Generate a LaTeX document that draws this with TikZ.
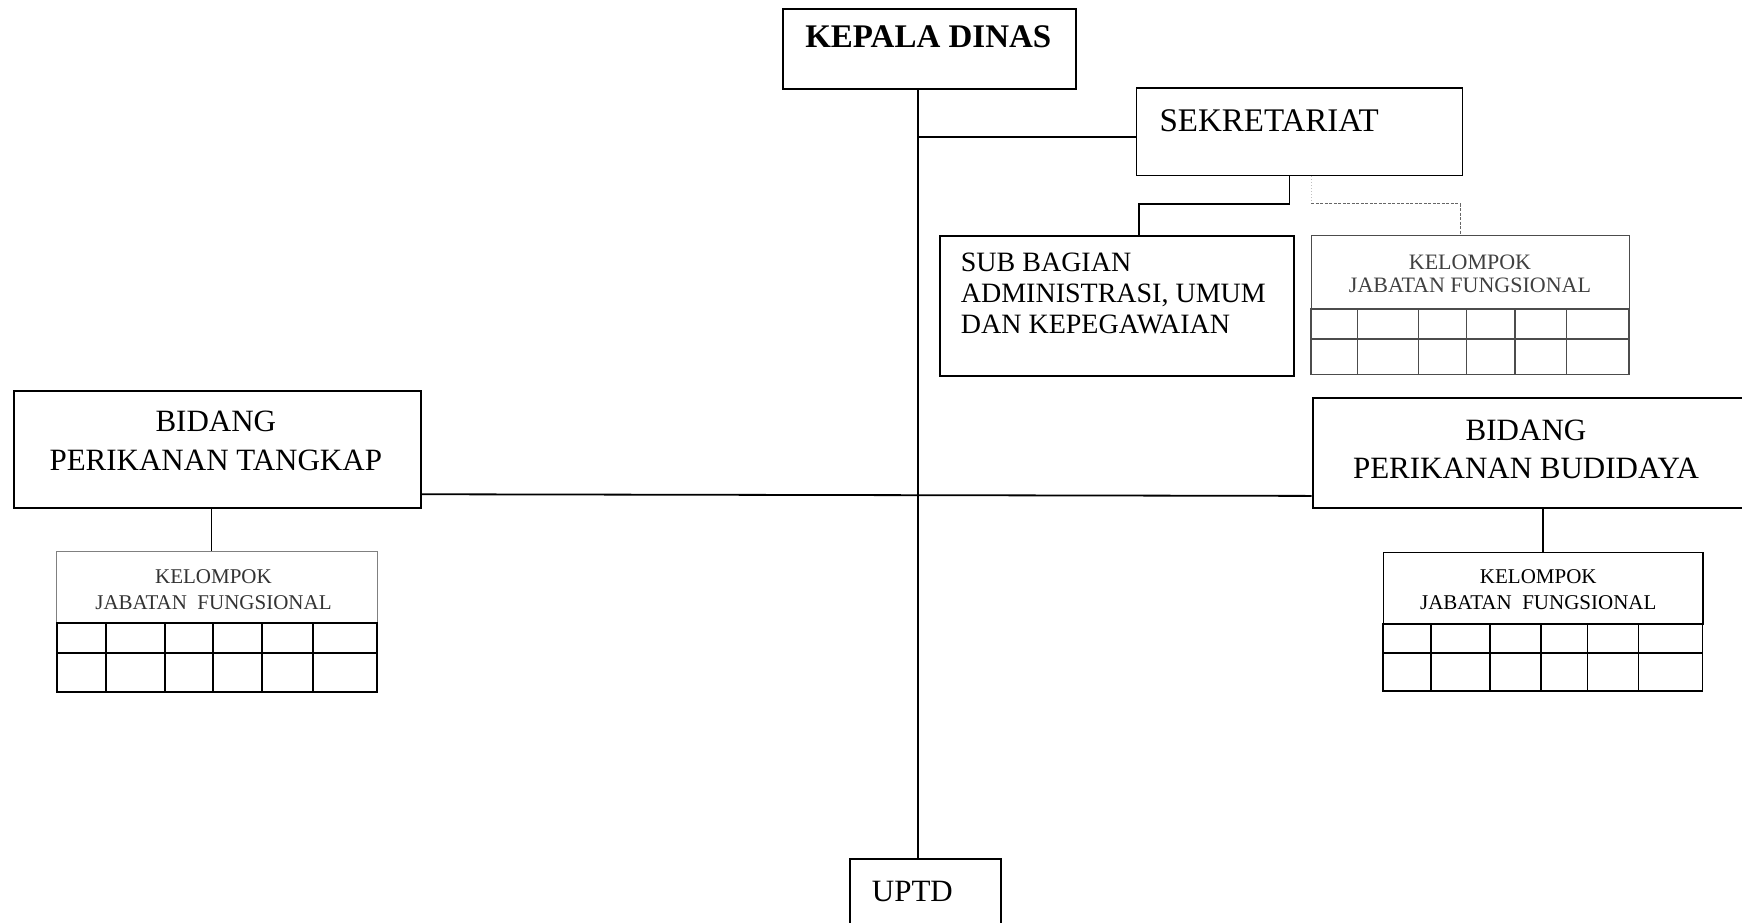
\documentclass[tikz,border=0pt]{standalone}
\usepackage{fontspec}
\setmainfont{Liberation Serif}
\usetikzlibrary{calc}
\def\fungsigrid[#1](#2:#3)(#4:#5:#6)#7{\draw[#1] (#2,#4) rectangle (#3,#6); \draw[#1] (#2,#5) -- (#3,#5); \foreach \c in {#7} {\draw[#1] (\c,#4) -- (\c,#6);}}
\tikzset{
	unit/.style={draw, line width=1.8pt, inner sep=0pt, anchor=north west},
	link/.style={line width=1.8pt},
	dashlink/.style={line width=1.3pt, color=black!60, dash pattern=on 3pt off 1.5pt},
	big/.style={font=\fontsize{31}{38.3}\selectfont, align=center, inner sep=0pt},
	small/.style={font=\fontsize{21}{26}\selectfont, align=center, inner sep=0pt}
}

\begin{document}
\begin{tikzpicture}[x=1pt, y=-1pt]
			%%%%% START %%%%%
			
			\useasboundingbox (0, 0) rectangle (1742, 922);
			\clip (0, 0) rectangle (1742, 922);
			
			\node[unit, minimum width=293pt, minimum height=80pt] (kepala) at (781.7, 8.3) {};
			\node[anchor=base, inner sep=0pt, font=\fontsize{33}{36}\selectfont\bfseries] (kepala-t) at (928.3, 47.5) {KEPALA DINAS};
			
			\node[unit, minimum width=326pt, minimum height=87.5pt] (sek) at (1135.5, 87) {};
			\node[anchor=base west, inner sep=0pt, font=\fontsize{33}{36}\selectfont] (sek-t) at (1159.4, 131) {SEKRETARIAT};
			
			\node[unit, minimum width=353.7pt, minimum height=140pt] (subbag) at (939, 235) {};
			\node[anchor=base west, inner sep=0pt, align=left, font=\fontsize{28}{31}\selectfont] (subbag-t) at (960.7, 333.5) {SUB BAGIAN\\ADMINISTRASI, UMUM\\DAN KEPEGAWAIAN};
			
			\node[unit, line width=1.4pt, color=black!70, minimum width=318pt, minimum height=74.5pt] (kelsek) at (1311, 234.5) {};
			\node[small, anchor=base, color=black!75, font=\fontsize{22}{23}\selectfont] (kelsek-t) at (1470, 292) {KELOMPOK\\JABATAN FUNGSIONAL};
			\fungsigrid[line width=1.4pt, color=black!70](1311:1629)(309:339:374.5){1357.6, 1418.5, 1466.5, 1515, 1566.3}
			
			\node[unit, minimum width=406.7pt, minimum height=116.7pt] (tangkap) at (13.3, 390) {};
			\node[big, anchor=base] (tangkap-t) at (215.8, 470) {BIDANG\\PERIKANAN TANGKAP};
			
			\node[unit, line width=1pt, color=black!50, minimum width=320.7pt, minimum height=72.6pt] (keltangkap) at (56, 550.7) {};
			\node[small, anchor=base, color=black!80] (keltangkap-t) at (213.5, 609.3) {KELOMPOK\\JABATAN\ \ FUNGSIONAL};
			\fungsigrid[line width=1.9pt](57.3:376.7)(623.3:652.7:691.7){106, 164.7, 213.3, 262.3, 313.3}
			
			\node[unit, minimum width=445pt, minimum height=109.4pt] (budidaya) at (1311.7, 397.3) {};
			\node[big, anchor=base] (budidaya-t) at (1526, 478.3) {BIDANG\\PERIKANAN BUDIDAYA};
			
			\node[unit, line width=1.6pt, minimum width=319.6pt, minimum height=71.6pt] (kelbud) at (1382.7, 551.7) {};
			\node[small, anchor=base] (kelbud-t) at (1538.3, 609.3) {KELOMPOK\\JABATAN\ \ FUNGSIONAL};
			\fungsigrid[line width=1.6pt](1382.7:1702.3)(623.3:652.7:691){1430.7, 1490, 1540.7, 1587.3, 1638.3}
			
			\node[unit, minimum width=150.7pt, minimum height=90pt] (uptd) at (849.3, 857.7) {};
			\node[anchor=base west, inner sep=0pt, font=\fontsize{31}{36}\selectfont] (uptd-t) at (871.7, 901.7) {UPTD};
			
			\coordinate (trunk) at (918, 0);
			\draw[link] (kepala.south -| trunk) -- (uptd.north -| trunk);
			\draw[link] ([yshift=-5pt]trunk |- sek.west) -- ([yshift=-5pt]sek.west);
			\draw[link] ([yshift=-45pt]tangkap.east) -- ([yshift=-43pt]budidaya.west);
			
			\draw[link] ([xshift=-10pt]sek.south) -- ++(0, 27.5) -| ([xshift=22pt]subbag.north);
			\draw[line width=1pt, color=black!25, dotted] ([xshift=12pt]sek.south) -- ++(0, 27.5) coordinate (bend);
			\draw[dashlink] (bend) -| ([xshift=-10.5pt]kelsek.north);
			
			\draw[link] ([xshift=-6pt]tangkap.south) -- ([xshift=-6pt]tangkap.south |- keltangkap.north);
			\draw[link] (kelbud.north |- budidaya.south) -- (kelbud.north);
			
			%%%%% END %%%%%
		\end{tikzpicture}
\end{document}
